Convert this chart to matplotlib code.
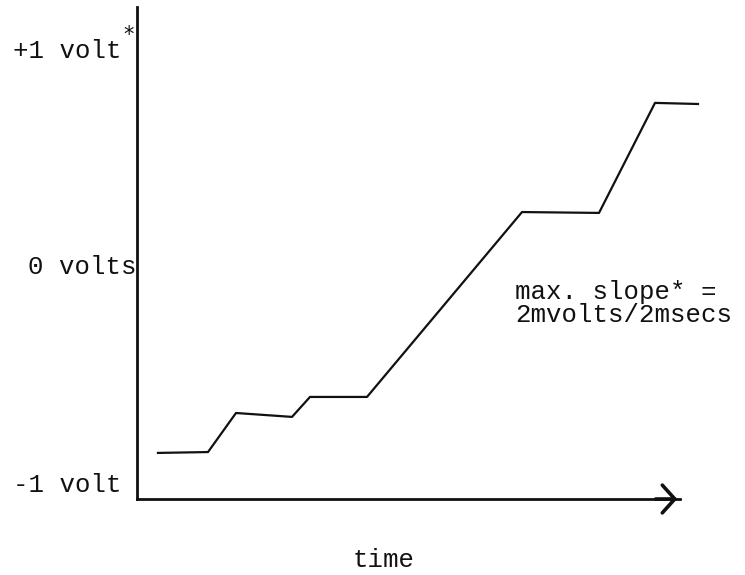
import matplotlib
matplotlib.use("Agg")
import matplotlib.pyplot as plt

# data (time in arbitrary units, voltage in volts)
time_pts = [2.1, 7.1, 9.9, 15.5, 17.3, 23.0, 38.5, 46.2, 51.8, 56.1]
volt_pts = [-0.866, -0.862, -0.682, -0.700, -0.608, -0.608, 0.244, 0.240, 0.747, 0.742]
tick_values = [-1, 0, 1]
tick_labels = ["-1 volt", "0 volts", "+1 volt"]
x_label = "time"
note_lines = ["max. slope* =", "2mvolts/2msecs"]

W, H = 745, 575
fig = plt.figure(figsize=(W / 100, H / 100), dpi=100)
fig.patch.set_facecolor("white")

left_px, right_px, bottom_px, top_px = 137, 680, 499, 7
ax = fig.add_axes([left_px / W, 1 - bottom_px / H, (right_px - left_px) / W, (bottom_px - top_px) / H])
ax.set_xlim(0, (right_px - left_px) / 10)
ax.set_ylim((265 - bottom_px) / 217, (265 - top_px) / 217)

for s in ["top", "right"]:
    ax.spines[s].set_visible(False)
for s in ["left", "bottom"]:
    ax.spines[s].set_linewidth(2.0)
    ax.spines[s].set_color("#111111")

font = "Liberation Mono"
ax.set_xticks([])
ax.set_yticks(tick_values)
ax.set_yticklabels(tick_labels, fontfamily=font, fontsize=18.5, color="#111111")
ax.tick_params(axis="y", length=0, pad=11)
ax.yaxis.get_major_ticks()[1].set_pad(0)

# asterisk on +1 volt
ax.text(-0.8, 1.06, "*", fontfamily="DejaVu Sans", fontsize=15, ha="center", va="center",
        color="#111111", clip_on=False)

ax.plot(time_pts, volt_pts, color="#111111", lw=1.6, clip_on=False)

# arrowhead at end of x axis
ax.annotate("", xy=(1.0, 0.0), xytext=(0.95, 0.0), xycoords="axes fraction",
            arrowprops=dict(arrowstyle="->,head_length=0.9,head_width=1.0", lw=2.6, color="#111111"),
            annotation_clip=False)

# x label
ax.text((384 - left_px) / (right_px - left_px), -(560 - bottom_px) / (bottom_px - top_px), x_label,
        transform=ax.transAxes, fontfamily=font, fontsize=18.5, ha="center", va="center", color="#111111")

fig.text(515 / W, 1 - 292 / H, note_lines[0], fontfamily=font, fontsize=18.5, ha="left", va="center", color="#111111")
fig.text(515 / W, 1 - 315 / H, note_lines[1], fontfamily=font, fontsize=18.5, ha="left", va="center", color="#111111")

fig.savefig("out.png", dpi=100, facecolor="white")
